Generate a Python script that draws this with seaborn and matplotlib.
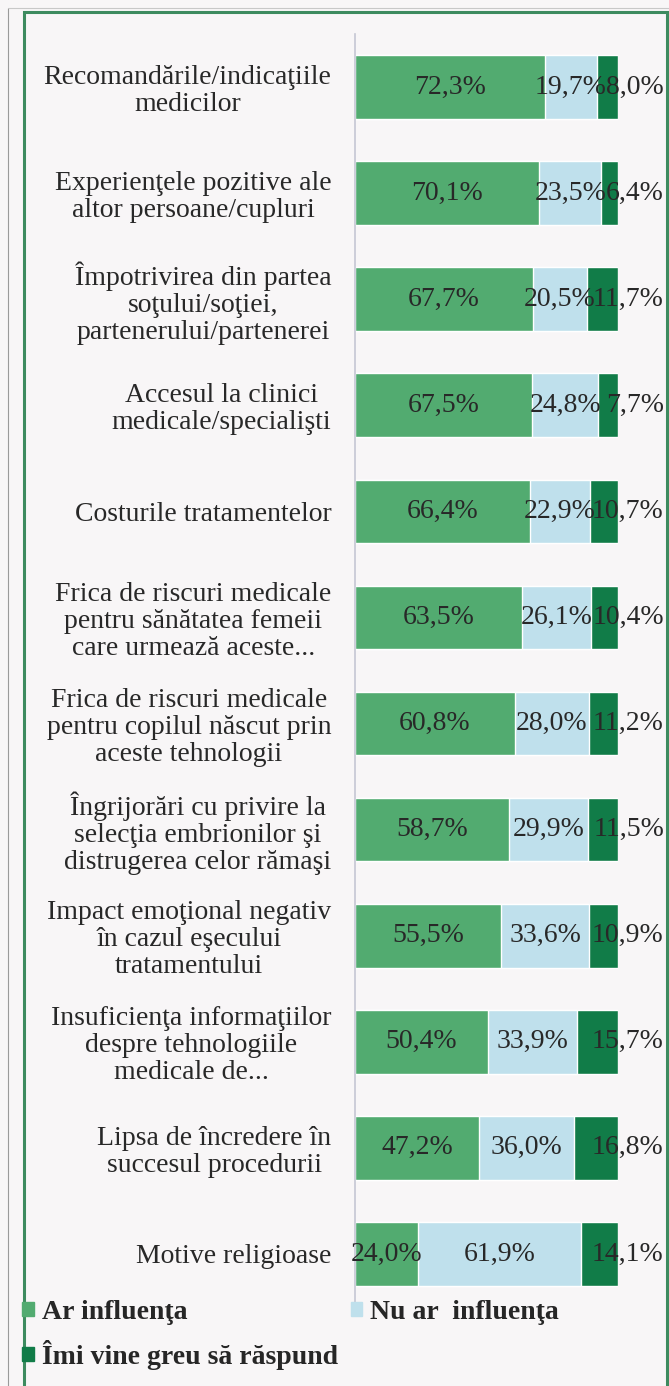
import pandas as pd
import matplotlib
matplotlib.use('Agg')
import matplotlib.pyplot as plt
import seaborn as sns
from matplotlib.patches import Rectangle, Patch
from matplotlib.lines import Line2D


factori = [
    "Recomandările/indicaţiile\nmedicilor",
    "Experienţele pozitive ale\naltor persoane/cupluri",
    "Împotrivirea din partea\nsoţului/soţiei,\npartenerului/partenerei",
    "Accesul la clinici\nmedicale/specialişti",
    "Costurile tratamentelor",
    "Frica de riscuri medicale\npentru sănătatea femeii\ncare urmează aceste...",
    "Frica de riscuri medicale\npentru copilul născut prin\naceste tehnologii",
    "Îngrijorări cu privire la\nselecţia embrionilor şi\ndistrugerea celor rămaşi",
    "Impact emoţional negativ\nîn cazul eşecului\ntratamentului",
    "Insuficienţa informaţiilor\ndespre tehnologiile\nmedicale de...",
    "Lipsa de încredere în\nsuccesul procedurii",
    "Motive religioase",
]
ar_influenta = [72.3, 70.1, 67.7, 67.5, 66.4, 63.5, 60.8, 58.7, 55.5, 50.4, 47.2, 24.0]
nu_ar_influenta = [19.7, 23.5, 20.5, 24.8, 22.9, 26.1, 28.0, 29.9, 33.6, 33.9, 36.0, 61.9]
greu_raspuns = [8.0, 6.4, 11.7, 7.7, 10.7, 10.4, 11.2, 11.5, 10.9, 15.7, 16.8, 14.1]

legenda = ["Ar influenţa", "Îmi vine greu să răspund", "Nu ar  influenţa"]

COL_AR = '#52ab70'
COL_NU = '#bfe0ec'
COL_GREU = '#117c48'
COL_TEXT = '#282828'
FUNDAL = '#f8f6f7'


def procent(v):
    return f"{v:.1f}%".replace('.', ',')


df = pd.DataFrame({'factor': factori, 'ar': ar_influenta,
                   'nu': nu_ar_influenta, 'greu': greu_raspuns})
df['cum_nu'] = df['ar'] + df['nu']
df['cum_total'] = df['cum_nu'] + df['greu']

sns.set_style('white')
plt.rcParams['font.family'] = ['Liberation Serif', 'DejaVu Serif']

fig = plt.figure(figsize=(6.69, 13.86), dpi=100, facecolor=FUNDAL)
ax = fig.add_axes([0.5306, 0.057, 0.3931, 0.9185])
ax.set_facecolor('none')

# bare suprapuse: total -> ar+nu -> ar
for col, culoare in [('cum_total', COL_GREU), ('cum_nu', COL_NU), ('ar', COL_AR)]:
    sns.barplot(data=df, y='factor', x=col, color=culoare, orient='h',
                width=0.6, saturation=1, errorbar=None, ax=ax)

for i, r in df.iterrows():
    ax.text(r['ar'] / 2, i, procent(r['ar']), ha='center', va='center',
            fontsize=20, color=COL_TEXT)
    ax.text(r['ar'] + r['nu'] / 2, i, procent(r['nu']), ha='center',
            va='center', fontsize=20, color=COL_TEXT)
    ax.annotate(procent(r['greu']), (r['cum_total'], i), xytext=(33, 0),
                textcoords='offset points', ha='right', va='center',
                fontsize=20, color=COL_TEXT, annotation_clip=False)

ax.set_xlim(0, 100)
ax.set_xticks([])
ax.set_xlabel('')
ax.set_ylabel('')
ax.set_yticks(range(len(factori)))
ax.set_yticklabels(factori, multialignment='center', fontsize=20, color=COL_TEXT,
                   linespacing=1.1)
ax.tick_params(axis='y', length=0, pad=17)
for s in ['top', 'right', 'bottom']:
    ax.spines[s].set_visible(False)
ax.spines['left'].set_color('#c5c7d3')
ax.spines['left'].set_linewidth(1.2)

handles = [Patch(color=COL_AR), Patch(color=COL_GREU), Patch(color=COL_NU)]
fig.legend(handles, legenda, ncol=2, loc='upper left',
           bbox_to_anchor=(0.017, 1 - 1289 / 1386), frameon=False,
           prop={'weight': 'bold', 'size': 20}, handlelength=0.4,
           handleheight=0.4, handletextpad=0.3, columnspacing=0.45,
           labelspacing=0.55, borderaxespad=0)

# chenar verde si marginea scanarii
fig.add_artist(Rectangle((24 / 669, -0.05), 643 / 669, 1.05 - 12 / 1386,
                         transform=fig.transFigure, fill=False,
                         edgecolor='#3d8b5f', linewidth=2.2))
fig.add_artist(Line2D([8 / 669, 8 / 669], [0, 1 - 8 / 1386],
                      transform=fig.transFigure, color='#9a9a9a', lw=0.8))
fig.add_artist(Line2D([8 / 669, 1], [1 - 8 / 1386, 1 - 8 / 1386],
                      transform=fig.transFigure, color='#c8c8c8', lw=0.8))

fig.savefig('out.png', dpi=100, facecolor=FUNDAL)
